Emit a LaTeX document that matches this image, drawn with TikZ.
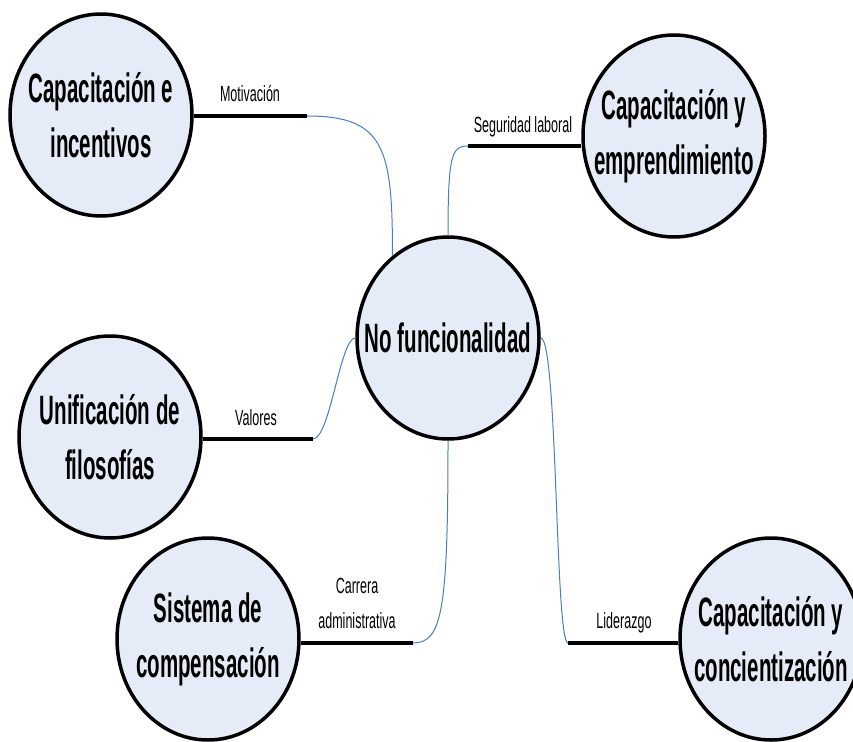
\documentclass[tikz,border=0pt]{standalone}
\usepackage{fontspec}
\usetikzlibrary{shapes.geometric}
% condensed faces for the topic bubbles and the link captions
\newfontfamily\topicfont[FakeStretch=0.5]{Liberation Sans}
\newfontfamily\linkfont[FakeStretch=0.57]{Liberation Sans}
\definecolor{topicfill}{RGB}{230,236,247}
\definecolor{linkblue}{RGB}{74,126,187}

\begin{document}
\begin{tikzpicture}[x=1pt,y=-1pt,
  topic/.style={ellipse, draw=black, line width=3.5pt, fill=topicfill,
    minimum width=182pt, minimum height=202pt, inner sep=0pt},
  topictext/.style={inner sep=0pt, align=center,
    font=\topicfont\bfseries\fontsize{41}{55}\selectfont},
  stem/.style={line width=4pt, black},
  link/.style={linkblue, line width=1pt},
  tag/.style={font=\linkfont\fontsize{22}{35}\selectfont, inner sep=0pt, align=center}]

\useasboundingbox (0,0) rectangle (853,741);

% topics: an empty ellipse with its title set on top
\node[topic, label={[topictext]center:No funcionalidad}] (nf) at (448,338) {};
\node[topic, label={[topictext]center:Capacitación e\\incentivos}] (ci) at (101,115) {};
\node[topic, label={[topictext]center:Capacitación y\\emprendimiento}] (ce) at (674,136) {};
\node[topic, label={[topictext]center:Unificación de\\filosofías}] (uf) at (110,437) {};
\node[topic, label={[topictext]center:Sistema de\\compensación}] (sc) at (208,639) {};
\node[topic, label={[topictext]center:Capacitación y\\concientización}] (cc) at (771,639) {};

% free ends of the black stems
\coordinate (m1) at (307,116);
\coordinate (m2) at (468,146);
\coordinate (m3) at (313,439);
\coordinate (m4) at (413,643);
\coordinate (m5) at (568,643);

% black stems
\draw[stem] (ci.east |- m1) -- (m1);
\draw[stem] (m2) -- (m2 -| ce.west);
\draw[stem] (uf.east |- m3) -- (m3);
\draw[stem] (sc.east |- m4) -- (m4);
\draw[stem] (m5) -- (m5 -| cc.west);

% blue links to the central topic
\draw[link] (m1) .. controls +(78,0) and +(0,-107) .. (nf.124);
\draw[link] (m2) .. controls +(-16,0) and +(0,-82) .. (nf.north);
\draw[link] (m3) .. controls +(17,0) and +(-15,0) .. (nf.west);
\draw[link] (m4) .. controls +(29,0) and +(0,171) .. (nf.south);
\draw[link] (nf.east) .. controls +(17,0) and +(-13,0) .. (m5);

% captions
\node[tag, anchor=base] (t1) at (250,102) {Motivación};
\node[tag, anchor=base] (t2) at (523,132) {Seguridad laboral};
\node[tag, anchor=base] (t3) at (256,425) {Valores};
\node[tag] (t4) at (357,603) {Carrera\\administrativa};
\node[tag, anchor=base] (t5) at (624,628) {Liderazgo};
\end{tikzpicture}
\end{document}
